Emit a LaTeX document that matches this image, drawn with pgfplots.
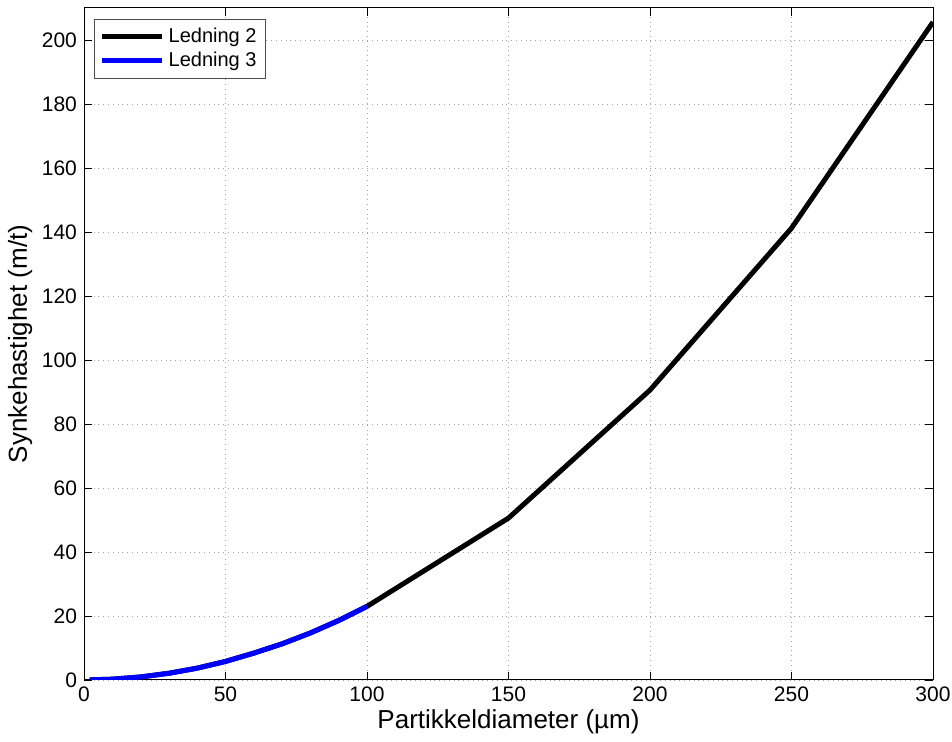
\documentclass[border=0pt]{standalone}
\usepackage{pgfplots}
\pgfplotsset{compat=1.18}
\usepackage{fontspec}
\setmainfont{Liberation Sans}
\begin{document}
\begin{tikzpicture}
\begin{axis}[
  name=ax,
  scale only axis,
  width=424.5pt, height=336pt,
  xmin=0, xmax=300, ymin=0, ymax=210,
  xtick={0,50,...,300}, ytick={0,20,...,200},
  tick align=inside,
  major tick length=4pt,
  tick style={black, line width=0.4pt},
  axis line style={black, line width=0.5pt},
  grid=major,
  major grid style={gray!70, dotted, line width=0.4pt},
  /pgf/number format/assume math mode=true,
  ticklabel style={font=\fontsize{10.5}{12}\selectfont},
  xlabel={Partikkeldiameter (µm)},
  ylabel={Synkehastighet (m/t)},
  label style={font=\fontsize{13}{15}\selectfont},
  xlabel style={yshift=3pt},
  ylabel style={yshift=-2pt},
  legend style={at={(0.012,0.984)}, anchor=north west, draw=black!70, line width=0.5pt,
    font=\fontsize{10}{11}\selectfont, cells={anchor=west}, inner sep=2.5pt, row sep=-1pt},
  legend image code/.code={\draw[#1, line width=2.5pt] (0pt,0pt) -- (30pt,0pt);},
]
\addplot[black, line width=2.5pt] coordinates {
 (2,0.05) (10,0.25) (20,0.95) (30,2.1) (40,3.7) (50,5.8) (60,8.4) (70,11.3) (80,14.7) (90,18.6) (100,23)
 (150,50.6) (200,90.6) (250,141.2) (300,205.6)};
\addlegendentry{Ledning 2}
\addplot[blue, line width=2.5pt] coordinates {
 (2,0.05) (10,0.25) (20,0.95) (30,2.1) (40,3.7) (50,5.8) (60,8.4) (70,11.3) (80,14.7) (90,18.6) (100,23)};
\addlegendentry{Ledning 3}
\end{axis}
\pgfresetboundingbox
\path ([shift={(-42pt,-31pt)}]ax.south west) rectangle ([shift={(9.5pt,4pt)}]ax.north east);
\end{tikzpicture}
\end{document}
